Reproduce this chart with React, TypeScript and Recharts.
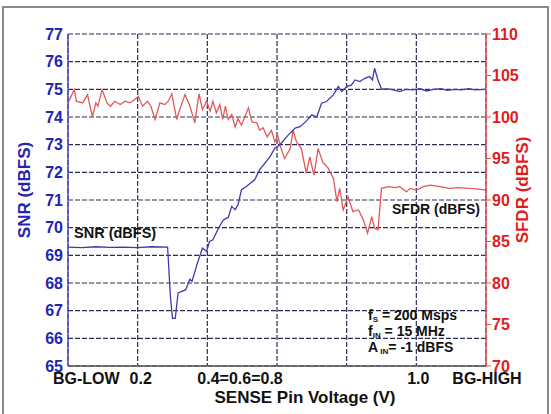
import React from 'react';
import { LineChart, Line, XAxis, YAxis, CartesianGrid } from 'recharts';

// x is in grid divisions (0 = BG-LOW ... 6 = BG-HIGH)
const xTicks = [0, 1, 2, 3, 4, 5, 6];
const xTickLabels = ['BG-LOW', '0.2', '0.4=0.6=0.8', '', '', '1.0', 'BG-HIGH'];

const snrTicks = [65, 66, 67, 68, 69, 70, 71, 72, 73, 74, 75, 76, 77];
const sfdrTicks = [70, 75, 80, 85, 90, 95, 100, 105, 110];

const snrX = [
  0, 0.2, 0.4, 0.6, 0.8, 1.0, 1.2, 1.43, 1.47, 1.5, 1.54, 1.58, 1.69, 1.75, 1.78,
  1.85, 1.93, 1.99, 2.03, 2.08, 2.16, 2.23, 2.3, 2.35, 2.4, 2.44, 2.49, 2.56, 2.59,
  2.68, 2.75, 2.9, 2.97, 3.04, 3.14, 3.26, 3.33, 3.42, 3.5, 3.57, 3.64, 3.71, 3.81,
  3.88, 3.93, 4.0, 4.07, 4.12, 4.19, 4.26, 4.33, 4.37, 4.4, 4.45, 4.5, 4.6, 4.7,
  4.76, 4.85, 4.95, 5.05, 5.15, 5.25, 5.35, 5.45, 5.55, 5.65, 5.75, 5.85, 6.0,
];
const snrValues = [
  69.3, 69.28, 69.31, 69.29, 69.3, 69.28, 69.31, 69.3, 67.5, 66.72, 66.72, 67.64,
  67.76, 68.14, 68.06, 68.66, 69.26, 69.14, 69.5, 69.56, 69.98, 70.28, 70.37, 70.77,
  70.65, 70.83, 71.37, 71.49, 71.55, 71.73, 72.09, 72.57, 72.87, 72.99, 73.29, 73.6,
  73.65, 73.85, 74.08, 74.0, 74.5, 74.56, 74.8, 75.1, 74.92, 75.1, 75.16, 75.34,
  75.28, 75.4, 75.46, 75.34, 75.76, 75.34, 75.01, 75.02, 74.96, 74.92, 75.0, 74.98,
  75.02, 74.94, 75.0, 75.02, 74.96, 75.0, 74.98, 75.02, 74.98, 75.0,
];

const sfdrX = [
  0, 0.09, 0.12, 0.21, 0.28, 0.35, 0.4, 0.43, 0.49, 0.56, 0.61, 0.67, 0.75, 0.82,
  0.89, 0.96, 1.01, 1.07, 1.14, 1.19, 1.25, 1.32, 1.39, 1.44, 1.49, 1.56, 1.62, 1.68,
  1.75, 1.82, 1.88, 1.93, 1.99, 2.04, 2.08, 2.13, 2.18, 2.22, 2.26, 2.3, 2.35, 2.4,
  2.44, 2.49, 2.59, 2.64, 2.71, 2.75, 2.8, 2.86, 2.92, 2.97, 3.01, 3.05, 3.11, 3.19,
  3.23, 3.28, 3.35, 3.42, 3.47, 3.53, 3.59, 3.66, 3.73, 3.81, 3.86, 3.9, 3.95, 4.02,
  4.09, 4.17, 4.24, 4.3, 4.36, 4.4, 4.45, 4.5, 4.6, 4.7, 4.76, 4.86, 4.91, 5.0, 5.1,
  5.2, 5.34, 5.48, 5.6, 5.75, 5.9, 6.0,
];
const sfdrValues = [
  101.7, 103.3, 101.9, 101.7, 102.7, 100.0, 101.7, 101.3, 103.3, 101.7, 101.3, 101.9,
  101.5, 101.9, 101.7, 102.1, 102.5, 101.3, 101.9, 101.3, 99.7, 101.7, 101.5, 101.9,
  102.8, 99.7, 101.3, 102.7, 101.3, 99.3, 102.8, 100.9, 101.9, 100.7, 101.9, 100.5,
  101.5, 99.7, 101.3, 99.7, 100.3, 98.8, 99.8, 99.0, 101.1, 99.4, 99.3, 98.4, 98.7,
  97.6, 98.4, 97.0, 97.8, 96.4, 95.0, 96.2, 98.4, 97.0, 96.2, 93.2, 95.2, 93.0, 96.2,
  94.5, 93.9, 92.6, 89.8, 91.4, 88.8, 90.4, 88.6, 88.8, 87.6, 86.0, 88.0, 86.6, 86.4,
  91.4, 91.6, 91.5, 91.6, 91.0, 91.4, 91.2, 91.6, 91.8, 91.6, 91.4, 91.5, 91.4, 91.3,
  91.2,
];

const snrData = snrX.map((x, i) => ({ x, snr: snrValues[i] }));
const sfdrData = sfdrX.map((x, i) => ({ x, sfdr: sfdrValues[i] }));

const FONT = '"Liberation Sans", Arial, sans-serif';
const BLUE = '#2424b4';
const RED = '#e01c1c';

const tickShift = [-15, 3, -10, 0, 0, 2, 1];
const tickAnchor = ['start', 'middle', 'start', 'middle', 'middle', 'middle', 'middle'];

function XTick(props: any) {
  const { x, y, payload } = props;
  const i = xTicks.indexOf(payload.value);
  const label = xTickLabels[i];
  if (!label) return null;
  return (
    <text
      x={x + tickShift[i]}
      y={y}
      dy={13}
      textAnchor={tickAnchor[i] as any}
      fontFamily={FONT}
      fontWeight="bold"
      fontSize={16}
      fill="#111"
    >
      {label}
    </text>
  );
}

export default function App() {
  const textProps = { fontFamily: FONT, fontWeight: 'bold' as const, fill: '#111' };
  return (
    <div style={{ position: 'absolute', left: 0, top: 0, width: 551, height: 414, background: '#fff' }}>
      <LineChart
        width={551}
        height={414}
        margin={{ top: 34, right: 5, bottom: 18, left: 8 }}
      >
        <CartesianGrid
          yAxisId="snr"
          stroke="#2c2c58"
          strokeDasharray="5 2"
          strokeWidth={1.2}
        />
        <XAxis
          dataKey="x"
          type="number"
          domain={[0, 6]}
          ticks={xTicks}
          interval={0}
          height={30}
          tickLine={false}
          tickSize={0}
          tickMargin={5}
          axisLine={{ stroke: '#555', strokeWidth: 1.5 }}
          tick={<XTick />}
        />
        <YAxis
          yAxisId="snr"
          orientation="left"
          domain={[65, 77]}
          ticks={snrTicks}
          interval={0}
          width={60}
          tickLine={false}
          tickSize={2}
          tickMargin={3}
          axisLine={{ stroke: '#5050c0', strokeWidth: 1.5 }}
          tick={{ fill: BLUE, fontSize: 16, fontWeight: 'bold', fontFamily: FONT }}
        />
        <YAxis
          yAxisId="sfdr"
          orientation="right"
          domain={[70, 110]}
          ticks={sfdrTicks}
          interval={0}
          width={60}
          tickSize={5}
          tickMargin={1}
          tickLine={{ stroke: '#e05050' }}
          axisLine={{ stroke: '#e05050', strokeWidth: 1.5 }}
          tick={{ fill: RED, fontSize: 16, fontWeight: 'bold', fontFamily: FONT }}
        />
        <Line
          yAxisId="sfdr"
          data={sfdrData}
          dataKey="sfdr"
          type="linear"
          stroke="#e05a5a"
          strokeWidth={1.3}
          dot={false}
          isAnimationActive={false}
        />
        <Line
          yAxisId="snr"
          data={snrData}
          dataKey="snr"
          type="linear"
          stroke="#3c3cae"
          strokeWidth={1.3}
          dot={false}
          isAnimationActive={false}
        />
      </LineChart>
      <svg
        width={551}
        height={414}
        style={{ position: 'absolute', left: 0, top: 0, pointerEvents: 'none' }}
      >
        <path d="M3 414 V7 H548 V414" fill="none" stroke="#8a8a8a" strokeWidth={2} />
        <text
          transform="translate(30,190) rotate(-90)"
          textAnchor="middle"
          fontFamily={FONT}
          fontWeight="bold"
          fontSize={17}
          fill={BLUE}
        >
          SNR (dBFS)
        </text>
        <text
          transform="translate(528,190) rotate(-90)"
          textAnchor="middle"
          fontFamily={FONT}
          fontWeight="bold"
          fontSize={17}
          fill={RED}
        >
          SFDR (dBFS)
        </text>
        <text x={305} y={403} textAnchor="middle" fontSize={17} {...textProps}>
          SENSE Pin Voltage (V)
        </text>
        <text x={74} y={238} fontSize={14.5} {...textProps}>
          SNR (dBFS)
        </text>
        <text x={392} y={214} fontSize={14} {...textProps}>
          SFDR (dBFS)
        </text>
        <text x={368} y={320} fontSize={14} {...textProps}>
          f<tspan fontSize={8} dy={2}>S</tspan>
          <tspan dy={-2}> = 200 Msps</tspan>
        </text>
        <text x={368} y={336} fontSize={14} {...textProps}>
          f<tspan fontSize={8} dy={2}>IN</tspan>
          <tspan dy={-2}> = 15 MHz</tspan>
        </text>
        <text x={368} y={352} fontSize={14} {...textProps}>
          A<tspan fontSize={8} dy={2}> IN</tspan>
          <tspan dy={-2}>= -1 dBFS</tspan>
        </text>
      </svg>
    </div>
  );
}
